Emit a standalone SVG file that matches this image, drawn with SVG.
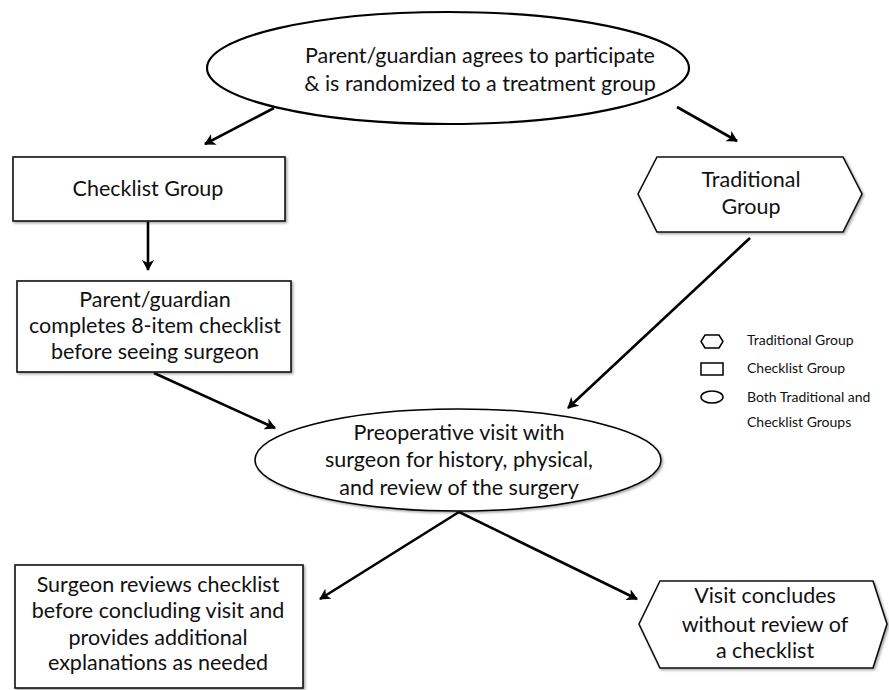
<svg xmlns="http://www.w3.org/2000/svg" width="889" height="690" viewBox="0 0 889 690">
<defs>
<marker id="ah" markerWidth="12" markerHeight="12" viewBox="0 0 12 12" refX="10" refY="6" orient="auto" markerUnits="userSpaceOnUse">
<path d="M0,0 L11,6 L0,12 L3,6 Z" fill="#000"/>
</marker>
<filter id="sh" x="-5%" y="-5%" width="110%" height="115%">
<feDropShadow dx="1.5" dy="1.5" stdDeviation="1" flood-color="#000" flood-opacity="0.35"/>
</filter>
</defs>
<style>
text{font-family:Lato,"Open Sans","Liberation Sans",sans-serif;fill:#111;text-anchor:middle}
.t{font-size:21.5px}
.l{font-size:14px;text-anchor:start}
.box{fill:#fff;stroke:#111;stroke-width:1.6;filter:url(#sh)}
.ell{fill:#fff;stroke:#000;stroke-width:2.2}
.ell2{fill:#fff;stroke:#000;stroke-width:1.5;filter:url(#sh)}
.leg{fill:#fff;stroke:#000;stroke-width:1.5}
.c{stroke:#000;stroke-width:2.6;fill:none;marker-end:url(#ah)}
</style>
<rect width="889" height="690" fill="#fff"/>

<g id="connectors">
<line class="c" x1="274" y1="108" x2="205" y2="144"/>
<line class="c" x1="677" y1="107" x2="737" y2="141"/>
<line class="c" x1="148" y1="222" x2="148" y2="270"/>
<line class="c" x1="154" y1="373" x2="275" y2="428"/>
<line class="c" x1="750" y1="238" x2="568" y2="408"/>
<line class="c" x1="459" y1="512" x2="320" y2="599"/>
<line class="c" x1="459" y1="512" x2="637" y2="599"/>
</g>

<g id="start">
<ellipse class="ell" cx="448" cy="68" rx="241" ry="56"/>
<text class="t" x="480" y="63">Parent/guardian agrees to participate</text>
<text class="t" x="480" y="91">&amp; is randomized to a treatment group</text>
</g>

<g id="checklist-group">
<rect class="box" x="13" y="157" width="272" height="64"/>
<text class="t" x="148" y="196">Checklist Group</text>
</g>

<g id="traditional-group">
<polygon class="box" points="657,157 843,157 862,194 843,232 657,232 638,194"/>
<text class="t" x="751" y="187">Traditional</text>
<text class="t" x="751" y="214">Group</text>
</g>

<g id="complete-checklist">
<rect class="box" x="17" y="281" width="274" height="91"/>
<text class="t" x="155" y="307">Parent/guardian</text>
<text class="t" x="155" y="333">completes 8-item checklist</text>
<text class="t" x="155" y="359">before seeing surgeon</text>
</g>

<g id="preop-visit">
<ellipse class="ell2" cx="458" cy="460" rx="203" ry="51"/>
<text class="t" x="459" y="440">Preoperative visit with</text>
<text class="t" x="459" y="467">surgeon for history, physical,</text>
<text class="t" x="459" y="495">and review of the surgery</text>
</g>

<g id="surgeon-reviews">
<rect class="box" x="15" y="565" width="288" height="123"/>
<text class="t" x="158" y="592">Surgeon reviews checklist</text>
<text class="t" x="158" y="618">before concluding visit and</text>
<text class="t" x="158" y="645">provides additional</text>
<text class="t" x="158" y="670">explanations as needed</text>
</g>

<g id="visit-concludes">
<polygon class="box" points="660,581 873,581 887,624 873,668 660,668 639,624"/>
<text class="t" x="765" y="603">Visit concludes</text>
<text class="t" x="765" y="632">without review of</text>
<text class="t" x="765" y="658">a checklist</text>
</g>

<g id="legend">
<polygon class="leg" points="705,335 719,335 723,341.5 719,348 705,348 701,341.5"/>
<text class="l" x="747" y="345">Traditional Group</text>
<rect class="leg" x="701" y="363" width="22" height="12"/>
<text class="l" x="747" y="373">Checklist Group</text>
<ellipse class="leg" cx="712" cy="397" rx="11" ry="6"/>
<text class="l" x="747" y="402">Both Traditional  and</text>
<text class="l" x="747" y="427">Checklist Groups</text>
</g>
</svg>
